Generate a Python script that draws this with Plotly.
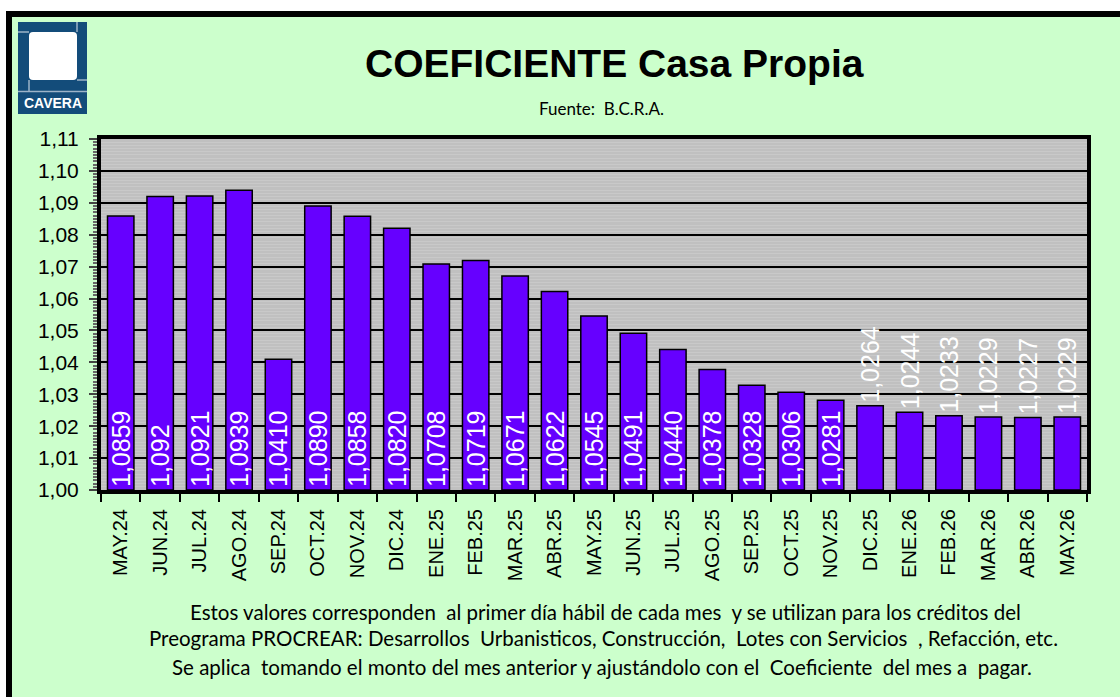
import plotly.graph_objects as go

# Monthly "Casa Propia" coefficients (B.C.R.A.)
months = ["MAY.24", "JUN.24", "JUL.24", "AGO.24", "SEP.24", "OCT.24", "NOV.24",
          "DIC.24", "ENE.25", "FEB.25", "MAR.25", "ABR.25", "MAY.25", "JUN.25",
          "JUL.25", "AGO.25", "SEP.25", "OCT.25", "NOV.25", "DIC.25", "ENE.26",
          "FEB.26", "MAR.26", "ABR.26", "MAY.26"]
coef_labels = ["1,0859", "1,092", "1,0921", "1,0939", "1,0410", "1,0890", "1,0858",
               "1,0820", "1,0708", "1,0719", "1,0671", "1,0622", "1,0545", "1,0491",
               "1,0440", "1,0378", "1,0328", "1,0306", "1,0281", "1,0264", "1,0244",
               "1,0233", "1,0229", "1,0227", "1,0229"]
y_ticks = [1.00, 1.01, 1.02, 1.03, 1.04, 1.05, 1.06, 1.07, 1.08, 1.09, 1.10, 1.11]

coef = [float(s.replace(",", ".")) for s in coef_labels]
BASE = 1.00

W, H = 1120, 697
L, R, T, B = 101, 33, 139, 207
PW, PH = W - L - R, H - T - B


def px(x):
    return (x - L) / PW


def py(y):
    return (H - B - y) / PH


text_pos = ["inside" if v >= 1.027 else "outside" for v in coef]

fig = go.Figure(go.Bar(
    x=months,
    y=[v - BASE for v in coef],
    base=BASE,
    text=coef_labels,
    textposition=text_pos,
    insidetextanchor="start",
    textangle=-90,
    constraintext="none",
    textfont=dict(family="Liberation Sans, Arial", size=25, color="white"),
    outsidetextfont=dict(family="Liberation Sans, Arial", size=25, color="white"),
    marker=dict(color="#6600FF", line=dict(color="black", width=1.5)),
    cliponaxis=False,
    hoverinfo="x+text",
))

shapes = []
# outer frame of the sheet
shapes.append(dict(type="rect", xref="paper", yref="paper", x0=px(0), x1=px(W), y0=py(0), y1=py(11),
                   fillcolor="white", line_width=0, layer="above"))
shapes.append(dict(type="rect", xref="paper", yref="paper", x0=px(0), x1=px(6), y0=py(0), y1=py(H),
                   fillcolor="white", line_width=0, layer="above"))
shapes.append(dict(type="path", xref="paper", yref="paper",
                   path=f"M {px(9)} {py(H + 5)} L {px(9)} {py(14)} L {px(W + 5)} {py(14)}",
                   line=dict(color="black", width=6), layer="above"))

# CAVERA logo
blue = "#134C7A"
light = "#9DB3C8"
shapes.append(dict(type="rect", xref="paper", yref="paper", x0=px(18), x1=px(87), y0=py(114), y1=py(22),
                   fillcolor=blue, line_width=0, layer="above"))
r = 4
x0, x1, y0, y1 = px(29), px(77), py(32), py(80)
rx, ry = r / PW, r / PH
shapes.append(dict(type="path", xref="paper", yref="paper",
                   path=(f"M {x0 + rx} {y0} L {x1 - rx} {y0} Q {x1} {y0} {x1} {y0 - ry} "
                         f"L {x1} {y1 + ry} Q {x1} {y1} {x1 - rx} {y1} L {x0 + rx} {y1} "
                         f"Q {x0} {y1} {x0} {y1 + ry} L {x0} {y0 - ry} Q {x0} {y0} {x0 + rx} {y0} Z"),
                   fillcolor="white", line_width=0, layer="above"))
for (a, b, c, d) in [(18, 32, 29, 32), (77, 22, 77, 32), (77, 80, 87, 80), (29, 80, 29, 91),
                     (18, 91.5, 87, 91.5)]:
    shapes.append(dict(type="line", xref="paper", yref="paper", x0=px(a), y0=py(b), x1=px(c), y1=py(d),
                       line=dict(color=light, width=1.5), layer="above"))

annotations = [
    dict(text="<b>CAVERA</b>", x=px(52.5), y=py(103), xref="paper", yref="paper", showarrow=False,
         font=dict(family="Liberation Sans Narrow, Liberation Sans, Arial", size=14, color="white"),
         xanchor="center", yanchor="middle"),
    dict(text="<b>COEFICIENTE Casa Propia</b>", x=px(614), y=py(63), xref="paper", yref="paper",
         showarrow=False, font=dict(family="Liberation Sans, Arial", size=39, color="black"),
         xanchor="center", yanchor="middle"),
    dict(text="Fuente:\u00a0 B.C.R.A.", x=px(601), y=py(108), xref="paper", yref="paper",
         showarrow=False, font=dict(family="Lato, Open Sans", size=17, color="black"),
         xanchor="center", yanchor="middle"),
]
notes = [
    ("Estos valores corresponden\u00a0 al primer día hábil de cada mes\u00a0 y se utilizan para los créditos del", 605, 612),
    ("Preograma PROCREAR: Desarrollos\u00a0 Urbanisticos, Construcción,\u00a0 Lotes con Servicios\u00a0 , Refacción, etc.", 603, 638),
    ("Se aplica\u00a0 tomando el monto del mes anterior y ajustándolo con el\u00a0 Coeficiente\u00a0 del mes a\u00a0 pagar.", 602, 667),
]
for txt, cx, cy in notes:
    annotations.append(dict(text=txt, x=px(cx), y=py(cy), xref="paper", yref="paper", showarrow=False,
                            font=dict(family="Lato, Open Sans", size=20.5, color="black"),
                            xanchor="center", yanchor="middle"))

fig.update_layout(
    width=W, height=H,
    margin=dict(l=L, r=R, t=T, b=B, pad=0),
    paper_bgcolor="#CCFFCC",
    plot_bgcolor="#C0C0C0",
    separators=",.",
    bargap=0.33,
    showlegend=False,
    shapes=shapes,
    annotations=annotations,
    xaxis=dict(
        type="category",
        tickangle=-90,
        tickfont=dict(family="Liberation Sans, Arial", size=20, color="black"),
        ticks="outside", tickson="boundaries", ticklen=8, tickwidth=2, tickcolor="black",
        ticklabelstandoff=7,
        showline=True, linecolor="black", linewidth=4, mirror=True,
        showgrid=False,
    ),
    yaxis=dict(
        range=[1.00, 1.11],
        tickvals=y_ticks,
        tickformat=".2f",
        tickfont=dict(family="Liberation Sans, Arial", size=21, color="black"),
        ticks="outside", ticklen=8, tickwidth=1.5, tickcolor="#444",
        ticklabelstandoff=6,
        showline=True, linecolor="black", linewidth=4, mirror=True,
        showgrid=True, gridcolor="black", gridwidth=1.5,
        zeroline=False,
        minor=dict(dtick=0.001, ticks="outside", ticklen=4, tickcolor="#666",
                   showgrid=True, gridcolor="#C9C9C9", gridwidth=1),
    ),
)

fig.write_html("out.html")
